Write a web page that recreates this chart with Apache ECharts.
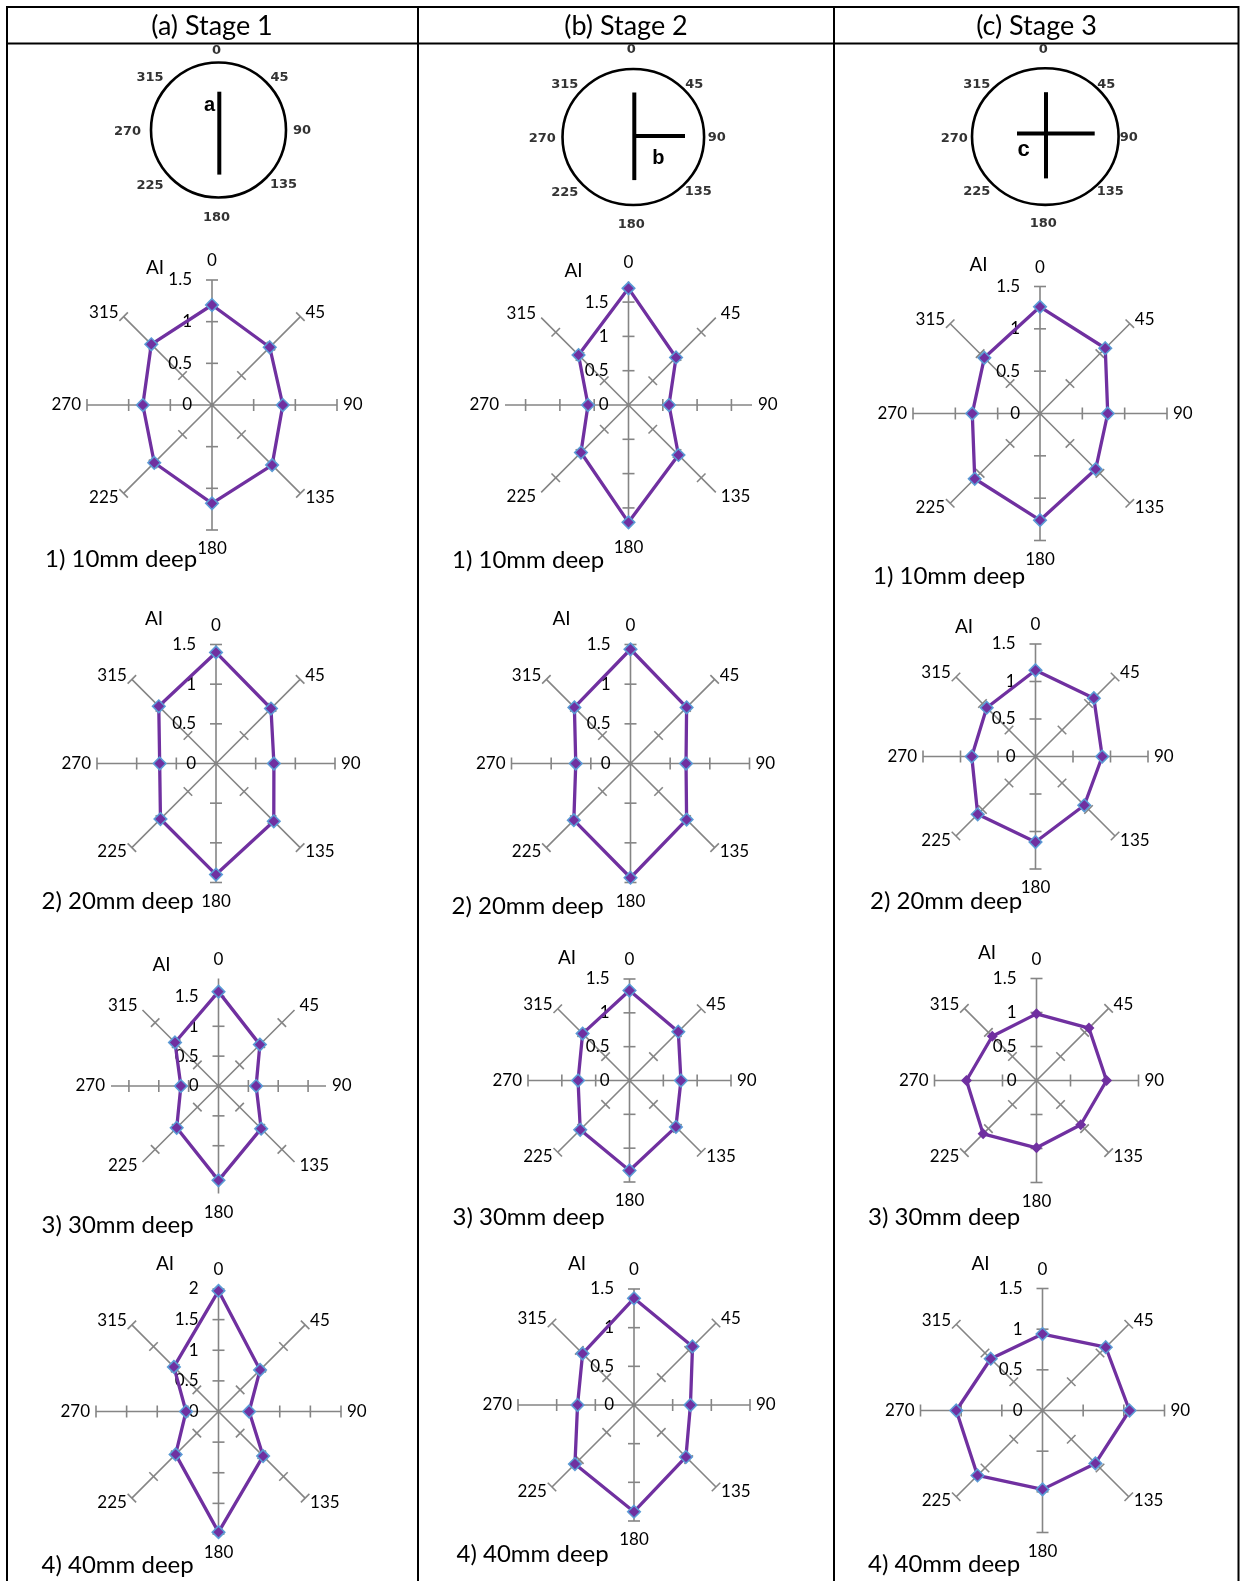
<!DOCTYPE html>
<html>
<head>
<meta charset="utf-8">
<title>AI by direction, stage and depth</title>
<script src="https://cdn.jsdelivr.net/npm/echarts@6/dist/echarts.min.js"></script>
<style>
  html, body { margin: 0; padding: 0; background: #fff; }
  #main { width: 1240px; height: 1581px; }
</style>
</head>
<body>
<div id="main"></div>
<script>
// spoke directions (degrees), column heads and row captions
var DIRS = ['0', '45', '90', '135', '180', '225', '270', '315'];
var STAGES = ['(a) Stage 1', '(b) Stage 2', '(c) Stage 3'];
var DEPTHS = ['1) 10mm deep', '2) 20mm deep', '3) 30mm deep', '4) 40mm deep'];
var TICK_STEP = 0.5;

// AI values, in the order of DIRS
var stage1_10mm = [1.20, 0.98, 0.85, 1.02, 1.18, 0.98, 0.83, 1.03];
var stage2_10mm = [1.70, 0.98, 0.59, 1.03, 1.71, 0.98, 0.59, 1.03];
var stage3_10mm = [1.26, 1.09, 0.80, 0.93, 1.26, 1.09, 0.80, 0.93];
var stage1_20mm = [1.40, 0.98, 0.73, 1.03, 1.40, 0.99, 0.71, 1.02];
var stage2_20mm = [1.44, 1.00, 0.70, 1.00, 1.44, 1.01, 0.69, 1.00];
var stage3_20mm = [1.15, 1.10, 0.89, 0.92, 1.14, 1.09, 0.85, 0.92];
var stage1_30mm = [1.58, 0.98, 0.63, 1.01, 1.58, 0.99, 0.63, 1.03];
var stage2_30mm = [1.33, 1.02, 0.76, 0.97, 1.33, 1.03, 0.76, 0.98];
var stage3_30mm = [0.98, 1.09, 1.03, 0.92, 0.99, 1.11, 1.03, 0.92];
var stage1_40mm = [1.97, 0.96, 0.50, 1.03, 1.97, 0.99, 0.53, 1.03];
var stage2_40mm = [1.38, 1.07, 0.73, 0.95, 1.38, 1.08, 0.73, 0.94];
var stage3_40mm = [0.94, 1.10, 1.07, 0.92, 0.97, 1.13, 1.06, 0.90];

// axis maximum of every chart (stage 1, 2, 3)
var axisMax10mm = [1.5, 1.8, 1.5];
var axisMax20mm = [1.5, 1.5, 1.5];
var axisMax30mm = [1.8, 1.5, 1.5];
var axisMax40mm = [2, 1.5, 1.5];

var VALUES = [
    [stage1_10mm, stage2_10mm, stage3_10mm],
    [stage1_20mm, stage2_20mm, stage3_20mm],
    [stage1_30mm, stage2_30mm, stage3_30mm],
    [stage1_40mm, stage2_40mm, stage3_40mm]
];
var AXIS_MAX = [axisMax10mm, axisMax20mm, axisMax30mm, axisMax40mm];

// where each chart sits on the page (row by row)
var LAYOUT = [
    {cx: 212, cy: 405, r: 125, ai: [155, 268], cap: [45, 559]},
    {cx: 628.5, cy: 405, r: 123.5, ai: [573.5, 271], cap: [452, 560]},
    {cx: 1040, cy: 413.5, r: 127, ai: [978.5, 265], cap: [873, 576]},
    {cx: 216, cy: 763.5, r: 119, ai: [154, 619], cap: [41.5, 901]},
    {cx: 630.5, cy: 763.5, r: 119, ai: [561.5, 619], cap: [451.5, 906.5]},
    {cx: 1035.5, cy: 756.5, r: 112.5, ai: [964, 626.5], cap: [870, 901]},
    {cx: 218.5, cy: 1086, r: 107.5, ai: [161.5, 965], cap: [41.5, 1225.5]},
    {cx: 629.5, cy: 1080.5, r: 101.5, ai: [567, 957.5], cap: [452.5, 1217.5]},
    {cx: 1036.5, cy: 1080.5, r: 102, ai: [987, 953], cap: [868, 1217.5], plain: true},
    {cx: 218.5, cy: 1411.5, r: 122.5, ai: [165, 1264], cap: [41.5, 1565]},
    {cx: 634, cy: 1405, r: 116, ai: [577, 1264], cap: [456.5, 1554]},
    {cx: 1042.5, cy: 1410.5, r: 122, ai: [980.5, 1264], cap: [868, 1564]}
];

// crack sketches above each column
var SKETCHES = [
    {cx: 218.5, cy: 130, rx: 67.5, ry: 67.5, letter: 'a', lx: 209.5, ly: 105, size: 20, topY: 51,
        cracks: [[219.3, 91.7, 219.3, 174.6]]},
    {cx: 633.3, cy: 137, rx: 70.8, ry: 68, letter: 'b', lx: 658.3, ly: 158.3, size: 20, topY: 50,
        cracks: [[634.3, 92.5, 634.3, 180.1], [634.3, 136.1, 685, 136.1]]},
    {cx: 1045.3, cy: 136.6, rx: 73.3, ry: 68.3, letter: 'c', lx: 1023.7, ly: 150, size: 22, topY: 49.5,
        cracks: [[1046, 92.2, 1046, 178.4], [1017, 133.6, 1094.7, 133.6]]}
];
// label offsets round a sketch circle, in the order of DIRS (the top one uses topY)
var RING = [[-2, -87], [61, -52], [83.5, 1], [65, 55], [-2, 87.5], [-68.5, 55.5], [-91, 2], [-68.5, -52]];

var AXIS_COLOR = '#858585';
var LINE_COLOR = '#7030A0';
var TICK_LEN = 6;
var FONT = 'Lato';

// spoke ticks and the direction label at the end of each spoke
function spokeRenderer(maxVal) {
    return function (params, api) {
        var k = params.dataIndex;
        var c = api.coord([0, k]);
        var e = api.coord([maxVal, k]);
        var len = Math.sqrt((e[0] - c[0]) * (e[0] - c[0]) + (e[1] - c[1]) * (e[1] - c[1]));
        var ux = (e[0] - c[0]) / len, uy = (e[1] - c[1]) / len;
        var children = [];
        for (var t = TICK_STEP; t <= maxVal + 1e-9; t += TICK_STEP) {
            var p = api.coord([t, k]);
            children.push({
                type: 'line',
                shape: {x1: p[0] - uy * TICK_LEN, y1: p[1] + ux * TICK_LEN, x2: p[0] + uy * TICK_LEN, y2: p[1] - ux * TICK_LEN},
                style: {stroke: AXIS_COLOR, lineWidth: 1.6}
            });
        }
        var sx = Math.abs(ux) < 0.1 ? 0 : (ux > 0 ? 1 : -1);
        var sy = Math.abs(uy) < 0.1 ? 0 : (uy > 0 ? 1 : -1);
        var dx, dy;
        if (sx === 0) { dx = 0; dy = sy * 19; }
        else if (sy === 0) { dx = sx * 6; dy = 0; }
        else { dx = sx * 5; dy = sy * 4; }
        var align = sx > 0 ? 'left' : (sx < 0 ? 'right' : 'center');
        children.push({
            type: 'text',
            x: e[0] + dx,
            y: e[1] + dy,
            style: {
                text: DIRS[k], font: '17px ' + FONT, fill: '#000',
                align: align, textAlign: align, verticalAlign: 'middle', textVerticalAlign: 'middle'
            }
        });
        return {type: 'group', children: children};
    };
}

// each value draws the edge to the next direction, so the outline closes
function edgeRenderer(params, api) {
    var j = params.dataIndex;
    var next = (j + 1) % DIRS.length;
    var p = api.coord([api.value(0), j]);
    var q = api.coord([api.value(0, next), next]);
    return {
        type: 'line',
        shape: {x1: p[0], y1: p[1], x2: q[0], y2: q[1]},
        style: {stroke: LINE_COLOR, lineWidth: 3.3, lineCap: 'round'}
    };
}

function label(txt, x, y, font, align, color) {
    return {
        type: 'text', x: x, y: y, silent: true,
        style: {
            text: txt, font: font, fill: color || '#000',
            align: align, textAlign: align, verticalAlign: 'middle', textVerticalAlign: 'middle'
        }
    };
}

function line(x1, y1, x2, y2, w, color) {
    return {type: 'line', silent: true, shape: {x1: x1, y1: y1, x2: x2, y2: y2},
        style: {stroke: color || '#000', lineWidth: w}};
}

var polar = [], angleAxis = [], radiusAxis = [], series = [], graphic = [];

// table frame
graphic.push(line(6, 7, 1239, 7, 2));
graphic.push(line(6, 43.5, 1239, 43.5, 2));
[7, 418, 834, 1238.5].forEach(function (x) {
    graphic.push(line(x, 6, x, 1581, 2));
});
var COL_CENTER = [212, 626, 1036.5];
STAGES.forEach(function (s, i) {
    graphic.push(label(s, COL_CENTER[i], 26, '27px ' + FONT, 'center'));
});

// sketches
SKETCHES.forEach(function (sk) {
    graphic.push({type: 'ellipse', silent: true, shape: {cx: sk.cx, cy: sk.cy, rx: sk.rx, ry: sk.ry},
        style: {fill: 'none', stroke: '#000', lineWidth: 2.6}});
    sk.cracks.forEach(function (c) {
        graphic.push(line(c[0], c[1], c[2], c[3], 4));
    });
    graphic.push(label(sk.letter, sk.lx, sk.ly, 'bold ' + sk.size + 'px "Liberation Sans"', 'center'));
    DIRS.forEach(function (d, k) {
        var y = k === 0 ? sk.topY : sk.cy + RING[k][1];
        graphic.push(label(d, sk.cx + RING[k][0], y, 'bold 13px "DejaVu Sans"', 'center', '#333'));
    });
});

// radar-like charts on polar systems
DEPTHS.forEach(function (depth, row) {
    STAGES.forEach(function (stage, col) {
        var i = row * 3 + col;
        var L = LAYOUT[i];
        var vals = VALUES[row][col];
        var maxVal = AXIS_MAX[row][col];
        var points = vals.map(function (v, k) { return [v, k]; });

        polar.push({center: [L.cx, L.cy], radius: L.r});
        angleAxis.push({
            polarIndex: i, type: 'category', data: DIRS, startAngle: 90, clockwise: true,
            boundaryGap: false,
            axisLine: {show: false}, axisTick: {show: false}, axisLabel: {show: false},
            splitLine: {show: true, lineStyle: {color: AXIS_COLOR, width: 1.6}}
        });
        radiusAxis.push({
            polarIndex: i, type: 'value', min: 0, max: maxVal, interval: TICK_STEP,
            axisLine: {show: false}, axisTick: {show: false}, splitLine: {show: false},
            axisLabel: {
                show: true, margin: 20, fontFamily: FONT, fontSize: 17, color: '#000',
                formatter: function (v) {
                    return Math.abs(v / TICK_STEP - Math.round(v / TICK_STEP)) < 1e-6 ? String(v) : '';
                }
            }
        });
        series.push({
            type: 'custom', coordinateSystem: 'polar', polarIndex: i, z: 2, silent: true,
            data: DIRS.map(function (d, k) { return [maxVal, k]; }),
            renderItem: spokeRenderer(maxVal)
        });
        series.push({
            type: 'custom', coordinateSystem: 'polar', polarIndex: i, z: 3, silent: true,
            name: stage + ' ' + depth,
            data: points,
            renderItem: edgeRenderer
        });
        series.push({
            type: 'scatter', coordinateSystem: 'polar', polarIndex: i, z: 4,
            name: stage + ' ' + depth,
            data: points,
            symbol: 'diamond', symbolSize: L.plain ? 11 : 12.5,
            itemStyle: {
                color: LINE_COLOR, opacity: 1,
                borderColor: L.plain ? LINE_COLOR : '#5B9BD5', borderWidth: L.plain ? 0 : 1.6
            }
        });

        graphic.push(label('AI', L.ai[0], L.ai[1], '19px ' + FONT, 'center'));
        graphic.push(label(depth, L.cap[0], L.cap[1], '24px ' + FONT, 'left'));
    });
});

var chart = echarts.init(document.getElementById('main'));
chart.setOption({
    backgroundColor: '#fff',
    animation: false,
    polar: polar,
    angleAxis: angleAxis,
    radiusAxis: radiusAxis,
    series: series,
    graphic: {elements: graphic}
});
</script>
</body>
</html>
